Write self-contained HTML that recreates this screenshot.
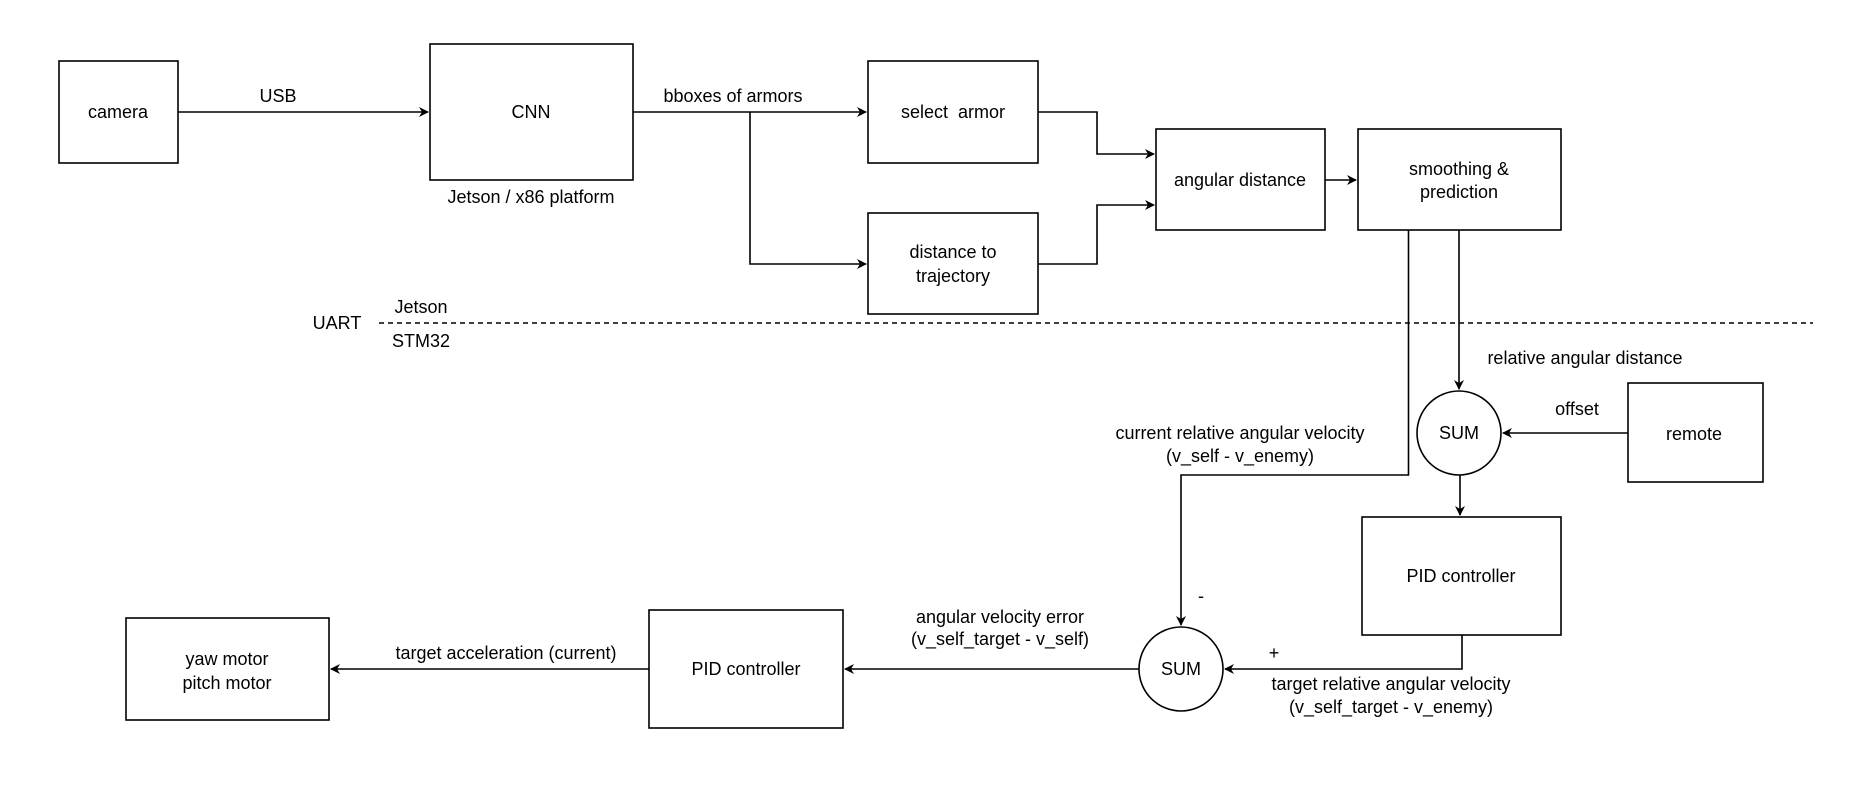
<!DOCTYPE html>
<html><head><meta charset="utf-8"><style>
html,body{margin:0;padding:0;background:#fff;}
svg{display:block;}
text{font-family:"Liberation Sans",Arial,sans-serif;font-size:18px;fill:#000;}
</style></head><body>
<svg width="1856" height="797" viewBox="0 0 1856 797" xmlns="http://www.w3.org/2000/svg">
<defs>
<marker id="a" viewBox="0 0 10 10" refX="9" refY="5" markerWidth="10" markerHeight="10" markerUnits="userSpaceOnUse" orient="auto">
<path d="M0,0 L10,5 L0,10 L3,5 Z" fill="#000"/>
</marker>
</defs>
<g fill="none" stroke="#000" stroke-width="1.6">
<rect x="59" y="61" width="119" height="102"/>
<rect x="430" y="44" width="203" height="136"/>
<rect x="868" y="61" width="170" height="102"/>
<rect x="868" y="213" width="170" height="101"/>
<rect x="1156" y="129" width="169" height="101"/>
<rect x="1358" y="129" width="203" height="101"/>
<rect x="1628" y="383" width="135" height="99"/>
<rect x="1362" y="517" width="199" height="118"/>
<rect x="649" y="610" width="194" height="118"/>
<rect x="126" y="618" width="203" height="102"/>
<ellipse cx="1459" cy="433" rx="42" ry="42"/>
<ellipse cx="1181" cy="669" rx="42" ry="42"/>
<path d="M178,112 H428" marker-end="url(#a)"/>
<path d="M633,112 H866" marker-end="url(#a)"/>
<path d="M750,112 V264 H866" marker-end="url(#a)"/>
<path d="M1038,112 H1097 V154 H1154" marker-end="url(#a)"/>
<path d="M1038,264 H1097 V205 H1154" marker-end="url(#a)"/>
<path d="M1325,180 H1356" marker-end="url(#a)"/>
<path d="M1459,230 V389" marker-end="url(#a)"/>
<path d="M1628,433 H1503" marker-end="url(#a)"/>
<path d="M1460,475 V515" marker-end="url(#a)"/>
<path d="M1408.5,230 V475 H1181 V625" marker-end="url(#a)"/>
<path d="M1462,635 V669 H1225" marker-end="url(#a)"/>
<path d="M1139,669 H845" marker-end="url(#a)"/>
<path d="M649,669 H331" marker-end="url(#a)"/>
<path d="M379,323 H1813" stroke-dasharray="5,4"/>
</g>
<g text-anchor="middle" dominant-baseline="central">
<text x="118" y="112">camera</text>
<text x="531" y="112">CNN</text>
<text x="278" y="96">USB</text>
<text x="733" y="96">bboxes of armors</text>
<text x="531" y="197">Jetson / x86 platform</text>
<text x="953" y="112">select&#160; armor</text>
<text x="953" y="252">distance to</text>
<text x="953" y="276">trajectory</text>
<text x="1240" y="180">angular distance</text>
<text x="1459" y="169">smoothing &amp;</text>
<text x="1459" y="192">prediction</text>
<text x="337" y="323">UART</text>
<text x="421" y="307">Jetson</text>
<text x="421" y="341">STM32</text>
<text x="1585" y="358">relative angular distance</text>
<text x="1459" y="433">SUM</text>
<text x="1577" y="409">offset</text>
<text x="1694" y="434">remote</text>
<text x="1240" y="433">current relative angular velocity</text>
<text x="1240" y="456">(v_self - v_enemy)</text>
<text x="1461" y="576">PID controller</text>
<text x="1201" y="596">-</text>
<text x="1181" y="669">SUM</text>
<text x="1274" y="653">+</text>
<text x="1391" y="684">target relative angular velocity</text>
<text x="1391" y="707">(v_self_target - v_enemy)</text>
<text x="1000" y="617">angular velocity error</text>
<text x="1000" y="639">(v_self_target - v_self)</text>
<text x="746" y="669">PID controller</text>
<text x="506" y="653">target acceleration (current)</text>
<text x="227" y="659">yaw motor</text>
<text x="227" y="683">pitch motor</text>
</g>
</svg>
</body></html>
